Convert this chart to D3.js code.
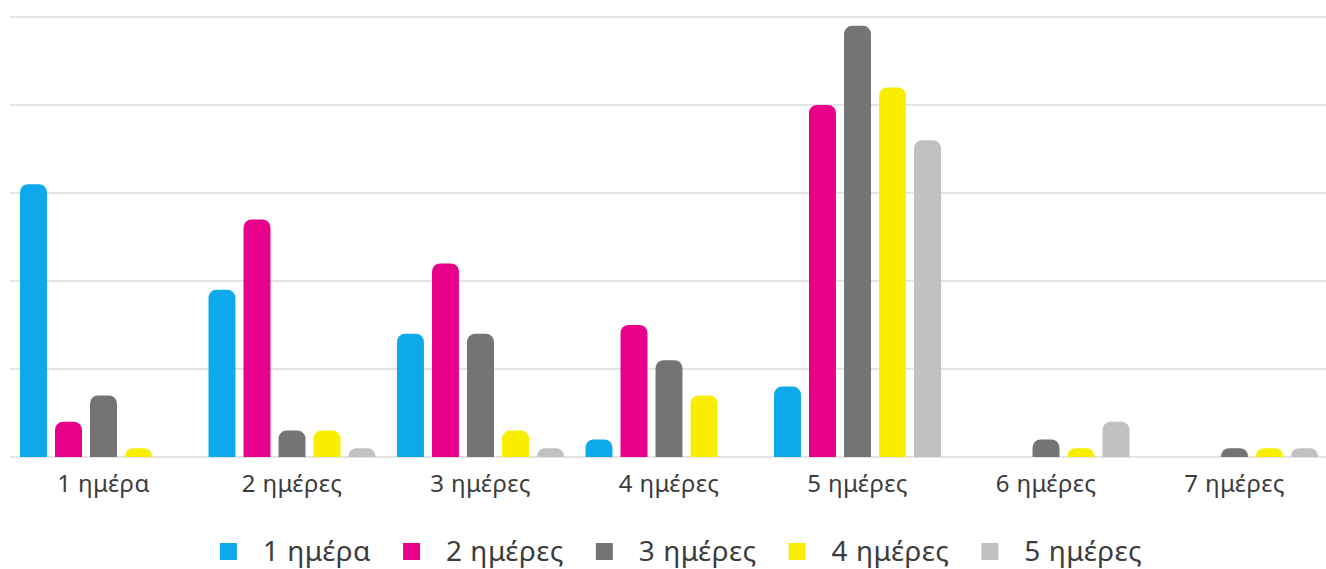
<!DOCTYPE html>
<html>
<head>
<meta charset="utf-8">
<script src="https://cdn.jsdelivr.net/npm/d3@7/dist/d3.min.js"></script>
<style>
  html, body { margin: 0; padding: 0; background: #ffffff; }
  svg { display: block; }
  text { font-family: "Noto Sans", "Liberation Sans", sans-serif; fill: #3c3c3c; }
</style>
</head>
<body>
<svg id="chart" width="1326" height="569"></svg>
<script>
// Category labels along the x axis
const categories = ["1 ημέρα", "2 ημέρες", "3 ημέρες", "4 ημέρες", "5 ημέρες", "6 ημέρες", "7 ημέρες"];

// Series names (legend) and colours
const seriesNames = ["1 ημέρα", "2 ημέρες", "3 ημέρες", "4 ημέρες", "5 ημέρες"];
const seriesColors = ["#0DA9EA", "#E8008A", "#747474", "#FAEE00", "#C1C1C1"];

// Values per series, one per category
const series1 = [31, 19, 14, 2, 8, 0, 0];
const series2 = [4, 27, 22, 15, 40, 0, 0];
const series3 = [7, 3, 14, 11, 49, 2, 1];
const series4 = [1, 3, 3, 7, 42, 1, 1];
const series5 = [0, 1, 1, 0, 36, 4, 1];
const seriesValues = [series1, series2, series3, series4, series5];

// Gridline values
const yTicks = [0, 10, 20, 30, 40, 50];

const svg = d3.select("#chart");
const margin = { left: 10, right: 0, top: 17, bottom: 112 };
const width = 1326, height = 569;
const plotBottom = height - margin.bottom;

const y = d3.scaleLinear().domain([0, 50]).range([plotBottom, margin.top]);

const x0 = d3.scaleBand()
  .domain(categories)
  .range([9.25, 9.25 + 188.5 * categories.length])
  .paddingInner(0.114)
  .paddingOuter(0.057);

const x1 = d3.scaleBand()
  .domain(seriesNames)
  .range([0, x0.bandwidth()])
  .paddingInner(0.23);

// Horizontal gridlines
svg.append("g")
  .selectAll("line")
  .data(yTicks)
  .join("line")
  .attr("x1", margin.left)
  .attr("x2", width)
  .attr("y1", d => y(d))
  .attr("y2", d => y(d))
  .attr("stroke", "#e4e4e4")
  .attr("stroke-width", 2);

// Bars with rounded tops
function barPath(x, yTop, w, h) {
  const rx = Math.min(8, w / 2);
  const ry = Math.min(8, h);
  const b = yTop + h;
  return `M${x},${b}` +
    `V${yTop + ry}` +
    `A${rx},${ry} 0 0 1 ${x + rx},${yTop}` +
    `H${x + w - rx}` +
    `A${rx},${ry} 0 0 1 ${x + w},${yTop + ry}` +
    `V${b}Z`;
}

const barData = [];
categories.forEach((c, ci) => {
  seriesNames.forEach((s, si) => {
    const v = seriesValues[si][ci];
    if (v > 0) barData.push({ cat: c, name: s, value: v, color: seriesColors[si] });
  });
});

svg.append("g")
  .selectAll("path")
  .data(barData)
  .join("path")
  .attr("fill", d => d.color)
  .attr("d", d => {
    const bx = x0(d.cat) + x1(d.name);
    const top = y(d.value);
    return barPath(bx, top, x1.bandwidth(), plotBottom - top);
  });

// Category labels
const xAxis = d3.axisBottom(x0).tickSize(0).tickPadding(0);
const gx = svg.append("g")
  .attr("transform", `translate(0,${plotBottom})`)
  .call(xAxis);
gx.select(".domain").remove();
gx.selectAll("text")
  .attr("y", 35)
  .attr("dy", 0)
  .style("font-size", "24px")
  .style("letter-spacing", "0.4px")
  .style("font-family", "\"Noto Sans\", sans-serif")
  .attr("fill", "#3c3c3c");

// Legend
const legend = svg.append("g").attr("class", "legend");
const items = legend.selectAll("g")
  .data(seriesNames.map((n, i) => ({ name: n, color: seriesColors[i] })))
  .join("g");
items.append("rect")
  .attr("width", 17).attr("height", 17)
  .attr("y", -18)
  .attr("fill", d => d.color);
items.append("text")
  .attr("x", 43)
  .attr("y", 0)
  .style("font-size", "28px")
  .style("letter-spacing", "0.5px")
  .text(d => d.name);

const gap = 32;
let cursor = 0;
items.each(function () {
  const g = d3.select(this);
  const tw = g.select("text").node().getComputedTextLength();
  g.attr("transform", `translate(${cursor},0)`);
  cursor += 43 + tw + gap;
});
const legendWidth = cursor - gap;
legend.attr("transform", `translate(${681 - legendWidth / 2},561)`);
</script>
</body>
</html>
